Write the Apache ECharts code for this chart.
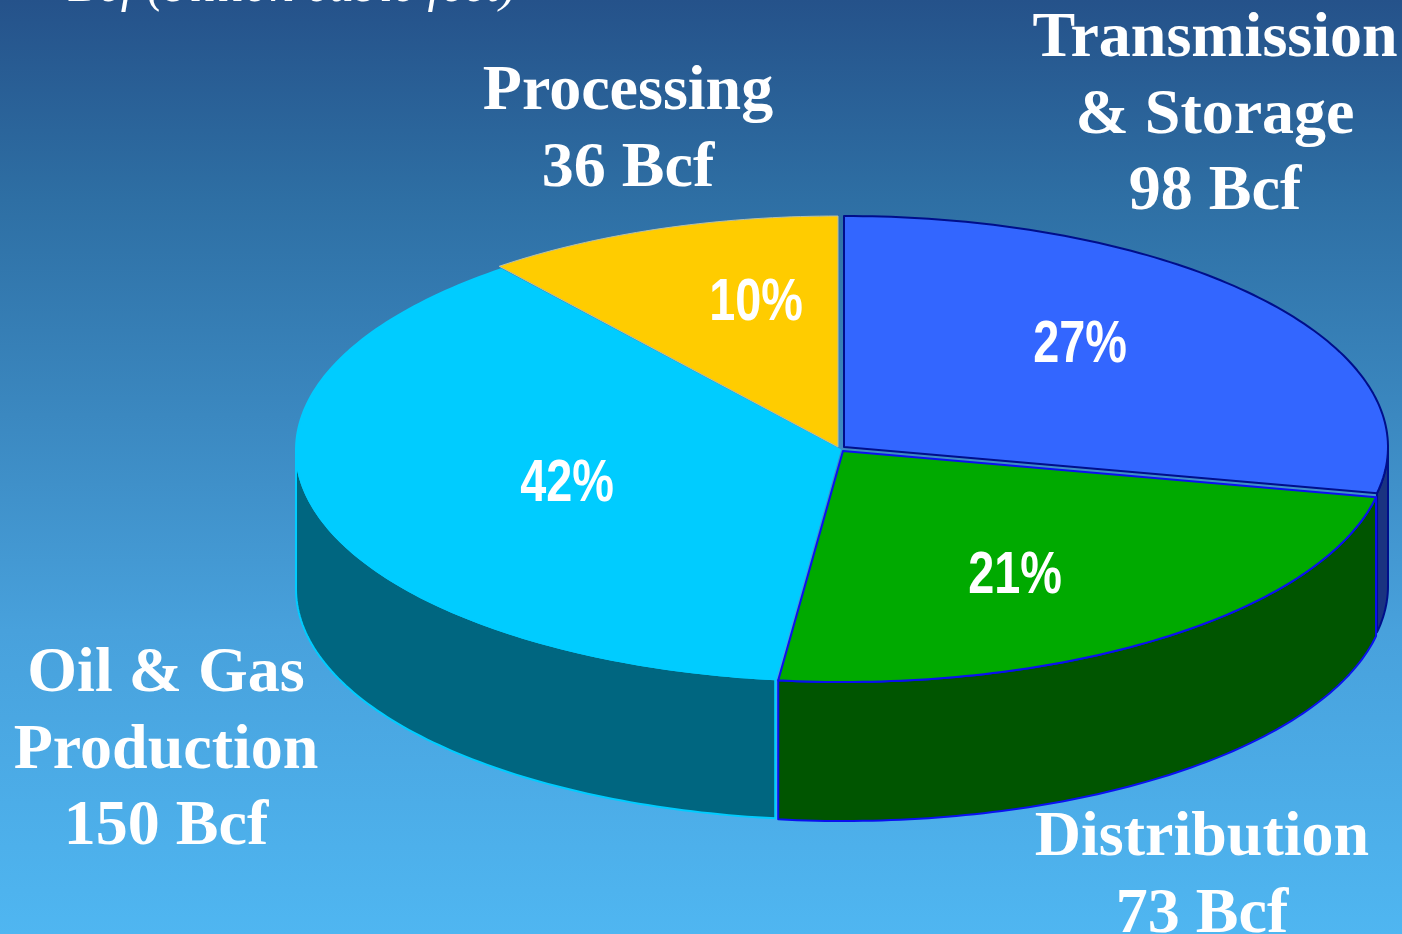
<!DOCTYPE html>
<html>
<head>
<meta charset="utf-8">
<style>html,body{margin:0;padding:0;background:#25538a}#c{width:1402px;height:934px}</style>
<script src="https://cdn.jsdelivr.net/npm/echarts@6/dist/echarts.min.js"></script>
</head>
<body>
<div id="c"></div>
<script>
// Data
const categories = ['Transmission\n& Storage', 'Distribution', 'Oil & Gas\nProduction', 'Processing'];
const volumeBcf = [98, 73, 150, 36];
const percentLabels = ['27%', '21%', '42%', '10%'];
// Share of the circle each slice occupies as drawn in the picture (the source's
// 3-D rendering does not draw slices exactly in proportion to the printed figures).
const drawnShare = [28.2, 23.7, 37.4, 10.7];
const unitNote = 'Bcf (billion cubic feet)';

// Styles and layout
const topColors = ['#3366ff', '#00aa00', '#00ccff', '#ffcc00'];
const wallColors = ['#1a3380', '#005500', '#006680', '#997a00'];
const edgeColors = ['#000e8a', '#0a10f0', '#00ccff', '#b8c0a8'];
const edgeWidths = [2, 2, 2, 1];
const offsets = [[2, -2], [1, 2], [-2, 1], [-4, -2]];
const percentPos = [[1080, 345], [1015, 576], [567, 484], [756, 303]];
const labelPos = [[1215, 116], [1202, 877], [166, 751], [628, 131]];
const CX = 842, CY = 449, RX = 544, RY = 231, DEPTH = 139;
const SERIF = '"Liberation Serif","Times New Roman",serif';
const SANS = '"Liberation Sans",Arial,sans-serif';

const total = drawnShare.reduce((a, b) => a + b, 0);
function sweepRange(i) {
  let s = 0;
  for (let k = 0; k < i; k++) s += drawnShare[k];
  return [s / total * 360, (s + drawnShare[i]) / total * 360];
}
function rimPoint(deg, off, dy) {
  const t = deg * Math.PI / 180;
  return [CX + off[0] + RX * Math.sin(t), CY + off[1] + dy - RY * Math.cos(t)];
}
function arc(a, b, off, dy) {
  const pts = [], n = Math.max(2, Math.ceil(Math.abs(b - a)));
  for (let i = 0; i <= n; i++) pts.push(rimPoint(a + (b - a) * i / n, off, dy));
  return pts;
}

function renderWall(params, api) {
  const i = params.dataIndex, r = sweepRange(i), off = offsets[i];
  const a = Math.max(r[0], 90), b = Math.min(r[1], 270);
  if (b <= a) return { type: 'group', children: [] };
  const pts = arc(a, b, off, 0).concat(arc(b, a, off, DEPTH));
  return {
    type: 'polygon', shape: { points: pts },
    style: { fill: wallColors[i], stroke: edgeColors[i], lineWidth: edgeWidths[i], lineJoin: 'round' }
  };
}
function renderTop(params, api) {
  const i = params.dataIndex, r = sweepRange(i), off = offsets[i];
  const pts = [[CX + off[0], CY + off[1]]].concat(arc(r[0], r[1], off, 0));
  return {
    type: 'group',
    children: [
      { type: 'polygon', shape: { points: pts },
        style: { fill: topColors[i], stroke: edgeColors[i], lineWidth: edgeWidths[i], lineJoin: 'round' } },
      { type: 'text', x: percentPos[i][0], y: percentPos[i][1], scaleX: 0.78,
        style: { text: percentLabels[i], fill: '#fff', align: 'center', verticalAlign: 'middle',
                 font: 'bold 60px ' + SANS } },
      { type: 'text', x: labelPos[i][0], y: labelPos[i][1],
        style: { text: categories[i] + '\n' + volumeBcf[i] + ' Bcf', fill: '#fff', align: 'center',
                 verticalAlign: 'middle', lineHeight: 76.5, font: 'bold 64px ' + SERIF } }
    ]
  };
}

const rows = drawnShare.map(v => [v]);
const chart = echarts.init(document.getElementById('c'), null, { renderer: 'canvas' });
chart.setOption({
  animation: false,
  backgroundColor: {
    type: 'linear', x: 0, y: 0, x2: 0, y2: 1,
    colorStops: [
      { offset: 0, color: '#25528a' },
      { offset: 0.214, color: '#2e6fa4' },
      { offset: 0.675, color: '#48a1dc' },
      { offset: 1, color: '#4fb6f1' }
    ]
  },
  graphic: [{
    type: 'text', left: 68, top: -37, z: 5,
    style: { text: unitNote, fill: '#fff', font: 'italic 50px ' + SERIF }
  }],
  series: [
    { type: 'custom', coordinateSystem: 'none', renderItem: renderWall, data: rows, z: 1, silent: true },
    { type: 'custom', coordinateSystem: 'none', renderItem: renderTop, data: rows, z: 2, silent: true }
  ]
});
</script>
</body>
</html>
